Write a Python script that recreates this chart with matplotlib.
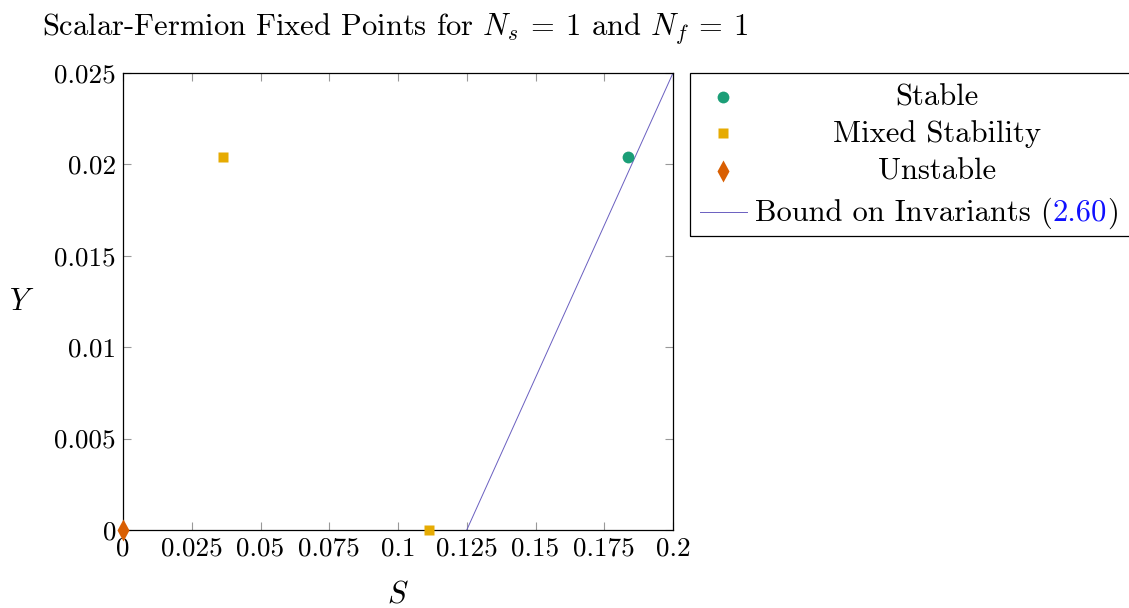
import matplotlib
matplotlib.use("Agg")
import matplotlib.pyplot as plt
from matplotlib.lines import Line2D
from matplotlib.patches import Rectangle

plt.rcParams['font.family'] = ['cmr10', 'DejaVu Serif']
plt.rcParams['mathtext.fontset'] = 'cm'
plt.rcParams['axes.formatter.use_mathtext'] = True

# Fixed points in the (S, Y) plane
stable_S = [0.1836]
stable_Y = [0.0204]
mixed_S = [0.0364, 0.1111]
mixed_Y = [0.0204, 0.0]
unstable_S = [0.0]
unstable_Y = [0.0]

# Bound on invariants: straight line segment
bound_S = [0.125, 0.2]
bound_Y = [0.0, 0.025]

x_ticks = [0, 0.025, 0.05, 0.075, 0.1, 0.125, 0.15, 0.175, 0.2]
x_tick_labels = ["0", "0.025", "0.05", "0.075", "0.1", "0.125", "0.15", "0.175", "0.2"]
y_ticks = [0, 0.005, 0.01, 0.015, 0.02, 0.025]
y_tick_labels = ["0", "0.005", "0.01", "0.015", "0.02", "0.025"]

c_stable = "#1b9e77"
c_mixed = "#e6ab02"
c_unstable = "#d95f02"
c_bound = "#6a5fc0"

FS = 22

W, H = 1129, 608
fig = plt.figure(figsize=(W / 100, H / 100), dpi=100)
ax = fig.add_axes([123 / W, 1 - 530 / H, 550 / W, 457 / H])

ax.plot(bound_S, bound_Y, color=c_bound, lw=0.7, zorder=2)
ax.plot(stable_S, stable_Y, 'o', color=c_stable, ms=8.5, mec='none', zorder=3, clip_on=False)
ax.plot(mixed_S, mixed_Y, 's', color=c_mixed, ms=7, mec='none', zorder=3, clip_on=False)
ax.plot(unstable_S, unstable_Y, 'd', color=c_unstable, ms=11, mec='none', zorder=3, clip_on=False)

ax.set_xlim(0, 0.2)
ax.set_ylim(0, 0.025)
ax.set_xticks(x_ticks)
ax.set_xticklabels(x_tick_labels)
ax.set_yticks(y_ticks)
ax.set_yticklabels(y_tick_labels)
ax.tick_params(direction='in', length=6, width=0.8, color='#999999',
               top=True, right=True, labelsize=19.5, pad=5)
for s in ax.spines.values():
    s.set_linewidth(0.9)

ax.set_xlabel(r"$S$", fontsize=FS, va='center')
ax.xaxis.set_label_coords(0.5, -0.142)
ax.set_ylabel(r"$Y$", fontsize=FS, rotation=0, va='center', ha='center')
ax.yaxis.set_label_coords(-0.1836, 0.499)


def fx(px):
    return px / W


def fy(py):
    return 1 - py / H


fig.text(fx(395), fy(29), r"Scalar-Fermion Fixed Points for $N_s\:=\:1$ and $N_f\:=\:1$",
         fontsize=22, ha='center', va='center')

# Legend box drawn in figure pixel coordinates
fig.patches.append(Rectangle((fx(690), fy(236)), fx(1129 + 5) - fx(690), fy(73) - fy(236),
                             transform=fig.transFigure, fill=False, ec='black', lw=0.9))
rows = [97, 133, 171, 212]
fig.lines.append(Line2D([fx(723)], [fy(rows[0])], marker='o', color=c_stable, ms=8.5,
                        mec='none', transform=fig.transFigure))
fig.lines.append(Line2D([fx(723)], [fy(rows[1])], marker='s', color=c_mixed, ms=7,
                        mec='none', transform=fig.transFigure))
fig.lines.append(Line2D([fx(723)], [fy(rows[2])], marker='d', color=c_unstable, ms=11,
                        mec='none', transform=fig.transFigure))
fig.lines.append(Line2D([fx(700), fx(747)], [fy(rows[3]), fy(rows[3])], color=c_bound,
                        lw=0.7, transform=fig.transFigure))

for label, r in zip(["Stable", "Mixed Stability", "Unstable"], rows[:3]):
    fig.text(fx(937), fy(r + 1), label, ha='center', va='center', fontsize=FS)

t1 = fig.text(fx(755), fy(rows[3] + 1), "Bound on Invariants (", ha='left', va='center', fontsize=FS)
fig.canvas.draw()
r = fig.canvas.get_renderer()
bb = t1.get_window_extent(r)
t2 = fig.text(bb.x1 / W, fy(rows[3] + 1), "2.60", ha='left', va='center', fontsize=FS, color='#1010ff')
bb2 = t2.get_window_extent(r)
fig.text(bb2.x1 / W, fy(rows[3] + 1), ")", ha='left', va='center', fontsize=FS)

fig.savefig("out.png", dpi=100)
